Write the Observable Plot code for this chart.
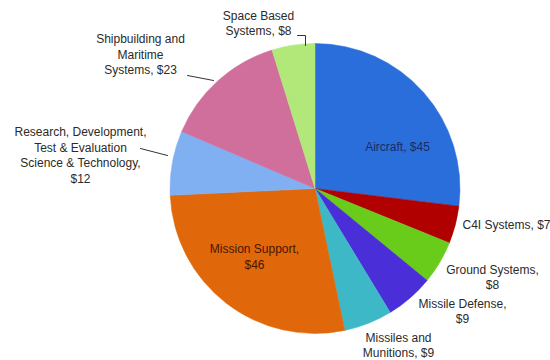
<!DOCTYPE html>
<html>
<head>
<meta charset="utf-8">
<script src="https://cdn.jsdelivr.net/npm/d3@7"></script>
<script src="https://cdn.jsdelivr.net/npm/@observablehq/plot@0.6"></script>
<style>
  html, body { margin: 0; padding: 0; background: #fff; }
  #chart { width: 550px; height: 360px; overflow: hidden; }
</style>
</head>
<body>
<div id="chart"></div>
<script>
// ---- data ----
const categories = ["Aircraft", "C4I Systems", "Ground Systems", "Missile Defense", "Missiles and Munitions", "Mission Support", "Research, Development, Test & Evaluation Science & Technology", "Shipbuilding and Maritime Systems", "Space Based Systems"];
const values = [45, 7, 8, 9, 9, 46, 12, 23, 8];
const labels = ["Aircraft, $45", "C4I Systems, $7", "Ground Systems,\n$8", "Missile Defense,\n$9", "Missiles and\nMunitions, $9", "Mission Support,\n$46", "Research, Development,\nTest & Evaluation\nScience & Technology,\n$12", "Shipbuilding and\nMaritime\nSystems, $23", "Space Based\nSystems, $8"];
const colors = ["#2a6edb", "#b00000", "#6acc1a", "#4a2ed8", "#3db8c6", "#e0680a", "#80b0f2", "#d06e9c", "#b2e87a"];

// ---- layout (pixels in the 550x360 frame) ----
const W = 550, H = 360, CX = 315, CY = 188.5, R = 145;
const labelPos = [[397, 145], [462, 223], [492, 276], [462, 310], [398, 344], [254, 255.5], [80, 154], [140, 53], [258, 22]];
const labelAnchor = ["middle", "start", "middle", "middle", "middle", "middle", "middle", "middle", "middle"];
const labelColor = ["#1b2b66", "#2a2a2a", "#2a2a2a", "#2a2a2a", "#2a2a2a", "#4a1500", "#2a2a2a", "#2a2a2a", "#2a2a2a"];
const leaders = [
  {k: 7, pts: [[187, 75], [213, 80]]},
  {k: 6, pts: [[140, 148], [167, 155]]},
  {k: 8, pts: [[297, 35], [305, 35], [305, 45]]}
];

const ux = px => (px - CX) / R;
const uy = py => (CY - py) / R;

const labelData = labels.map((t, i) => ({
  text: t, x: ux(labelPos[i][0]), y: uy(labelPos[i][1]),
  anchor: labelAnchor[i], color: labelColor[i]
}));
const leaderData = leaders.flatMap((l, j) => l.pts.map(p => ({g: j, x: ux(p[0]), y: uy(p[1])})));

function pieMark(index, scales) {
  const cx = scales.x(0), cy = scales.y(0), r = scales.x(1) - scales.x(0);
  const arcs = d3.pie().sort(null).value(d => d)(values);
  const arc = d3.arc().innerRadius(0).outerRadius(r);
  const g = d3.create("svg:g").attr("transform", `translate(${cx},${cy})`);
  g.selectAll("path").data(arcs).join("path")
    .attr("d", arc)
    .attr("fill", (d, i) => colors[i])
    .attr("stroke", (d, i) => colors[i])
    .attr("stroke-width", 0.5)
    .append("title").text((d, i) => categories[i]);
  return g.node();
}

const textMark = (anchor) => Plot.text(labelData.filter(d => d.anchor === anchor), {
  x: "x", y: "y", text: "text", fill: "color", textAnchor: anchor,
  lineAnchor: "middle", lineHeight: 1.3, fontSize: 12
});

const chart = Plot.plot({
  width: W, height: H,
  margin: 0,
  style: {fontFamily: "'Liberation Sans', Arial, sans-serif", background: "#fff"},
  x: {domain: [ux(0), ux(W)], range: [0, W], axis: null},
  y: {domain: [uy(H), uy(0)], range: [H, 0], axis: null},
  marks: [
    pieMark,
    Plot.line(leaderData, {x: "x", y: "y", z: "g", stroke: "#333", strokeWidth: 1}),
    textMark("middle"),
    textMark("start")
  ]
});
document.getElementById("chart").append(chart);
</script>
</body>
</html>
